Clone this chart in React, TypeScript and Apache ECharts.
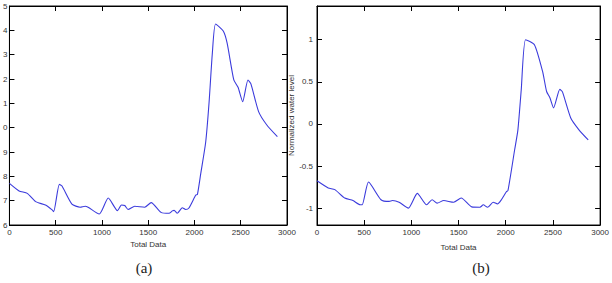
import React, { useEffect, useRef } from "react";
import * as echarts from "echarts";

// Panel (a): raw water level vs total data
const xA = [0, 104, 193, 282, 389, 461, 478, 539, 568, 675, 764, 818, 850, 971, 1068, 1168, 1211, 1246, 1282, 1354, 1461, 1532, 1639, 1725, 1761, 1780, 1814, 1868, 1904, 1940, 2014, 2032, 2068, 2121, 2157, 2193, 2228, 2311, 2353, 2425, 2471, 2521, 2578, 2610, 2693, 2782, 2896];
const yA = [7.71, 7.4, 7.3, 6.96, 6.82, 6.62, 6.55, 7.67, 7.6, 6.86, 6.73, 6.77, 6.73, 6.45, 7.11, 6.59, 6.82, 6.8, 6.64, 6.77, 6.73, 6.92, 6.52, 6.48, 6.58, 6.6, 6.48, 6.71, 6.64, 6.7, 7.23, 7.26, 8.12, 9.4, 11.0, 13.06, 14.26, 13.97, 13.47, 11.96, 11.66, 11.07, 11.96, 11.8, 10.66, 10.11, 9.63];

// Panel (b): normalized water level vs total data
const xB = [0, 119, 189, 294, 381, 458, 479, 546, 678, 765, 800, 870, 968, 1063, 1161, 1220, 1273, 1343, 1448, 1528, 1640, 1727, 1762, 1808, 1867, 1912, 1954, 2007, 2024, 2094, 2129, 2164, 2210, 2304, 2391, 2433, 2468, 2507, 2573, 2601, 2689, 2776, 2874];
const yB = [-0.675, -0.76, -0.78, -0.88, -0.91, -0.96, -0.96, -0.69, -0.9, -0.92, -0.91, -0.93, -1.0, -0.825, -0.96, -0.9, -0.94, -0.91, -0.93, -0.88, -0.985, -0.99, -0.96, -0.99, -0.93, -0.95, -0.9, -0.805, -0.79, -0.31, -0.07, 0.4, 1.0, 0.94, 0.62, 0.385, 0.31, 0.19, 0.41, 0.38, 0.07, -0.07, -0.19];

const yTicksB = [-1, -0.5, 0, 0.5, 1];
const xName = "Total Data";
const yNameB = "Normalized water level";
const captions = ["(a)", "(b)"];

const lineColor = "#3b3bdc";
const txt = "#333";

export default function App() {
  const ref = useRef<HTMLDivElement>(null);
  useEffect(() => {
    const chart = echarts.init(ref.current!, undefined, { renderer: "svg" });
    const axisLine = () => ({ show: true, onZero: false, lineStyle: { color: "#000", width: 1 } });
    const tick = () => ({ show: true, inside: true, length: 5, lineStyle: { color: "#000", width: 1 } });
    const label = () => ({ color: txt, fontSize: 8, fontFamily: "Liberation Sans, Arial, sans-serif" });
    const grids = [
      { left: 7, right: 325, top: 6, bottom: 58, show: true, borderColor: "#111", borderWidth: 1, backgroundColor: "transparent" },
      { left: 317, right: 9, top: 6, bottom: 58, show: true, borderColor: "#111", borderWidth: 1, backgroundColor: "transparent" },
    ];
    const xAxis: any[] = [];
    const yAxis: any[] = [];
    [0, 1].forEach((g) => {
      xAxis.push({
        type: "value", gridIndex: g, min: 0, max: 3000, interval: 500, position: "bottom",
        axisLine: axisLine(), axisTick: tick(), splitLine: { show: false },
        axisLabel: { ...label(), margin: 3, formatter: (v: number) => String(v) },
        name: xName, nameLocation: "middle", nameGap: g === 0 ? 15 : 18,
        nameTextStyle: label(),
      });
      xAxis.push({
        type: "value", gridIndex: g, min: 0, max: 3000, interval: 500, position: "top",
        axisLine: axisLine(), axisTick: tick(), splitLine: { show: false },
        axisLabel: { show: false },
      });
    });
    yAxis.push({
      type: "value", gridIndex: 0, min: 6, max: 15, interval: 1, position: "left",
      axisLine: axisLine(), axisTick: tick(), splitLine: { show: false },
      axisLabel: { ...label(), margin: 2, formatter: (v: number) => String(Math.round(v) % 10) },
    });
    yAxis.push({
      type: "value", gridIndex: 0, min: 6, max: 15, interval: 1, position: "right",
      axisLine: axisLine(), axisTick: tick(), splitLine: { show: false }, axisLabel: { show: false },
    });
    yAxis.push({
      type: "value", gridIndex: 1, min: -1.2, max: 1.4, position: "left",
      axisLine: axisLine(), axisTick: { ...tick(), customValues: yTicksB }, splitLine: { show: false },
      axisLabel: { ...label(), margin: 4, customValues: yTicksB, formatter: (v: number) => String(v) },
      name: yNameB, nameLocation: "middle", nameGap: 14, nameRotate: 90,
      nameTextStyle: label(),
    });
    yAxis.push({
      type: "value", gridIndex: 1, min: -1.2, max: 1.4, position: "right",
      axisLine: axisLine(), axisTick: { ...tick(), customValues: yTicksB }, splitLine: { show: false },
      axisLabel: { show: false },
    });
    chart.setOption({
      animation: false,
      backgroundColor: "#fff",
      grid: grids,
      xAxis,
      yAxis,
      series: [
        {
          type: "line", xAxisIndex: 0, yAxisIndex: 0, showSymbol: false, smooth: 0.2,
          data: xA.map((x, i) => [x, yA[i]]),
          lineStyle: { color: lineColor, width: 1.1 },
        },
        {
          type: "line", xAxisIndex: 2, yAxisIndex: 2, showSymbol: false, smooth: 0.2,
          data: xB.map((x, i) => [x, yB[i]]),
          lineStyle: { color: lineColor, width: 1.1 },
        },
      ],
      graphic: [
        { type: "text", x: 144, y: 268, style: { text: captions[0], font: "15px 'Liberation Serif', serif", fill: "#222", align: "center", verticalAlign: "middle" } },
        { type: "text", x: 481, y: 268, style: { text: captions[1], font: "15px 'Liberation Serif', serif", fill: "#222", align: "center", verticalAlign: "middle" } },
      ],
    });
    return () => chart.dispose();
  }, []);
  return <div ref={ref} style={{ width: 612, height: 283, position: "absolute", left: 0, top: 0 }} />;
}
